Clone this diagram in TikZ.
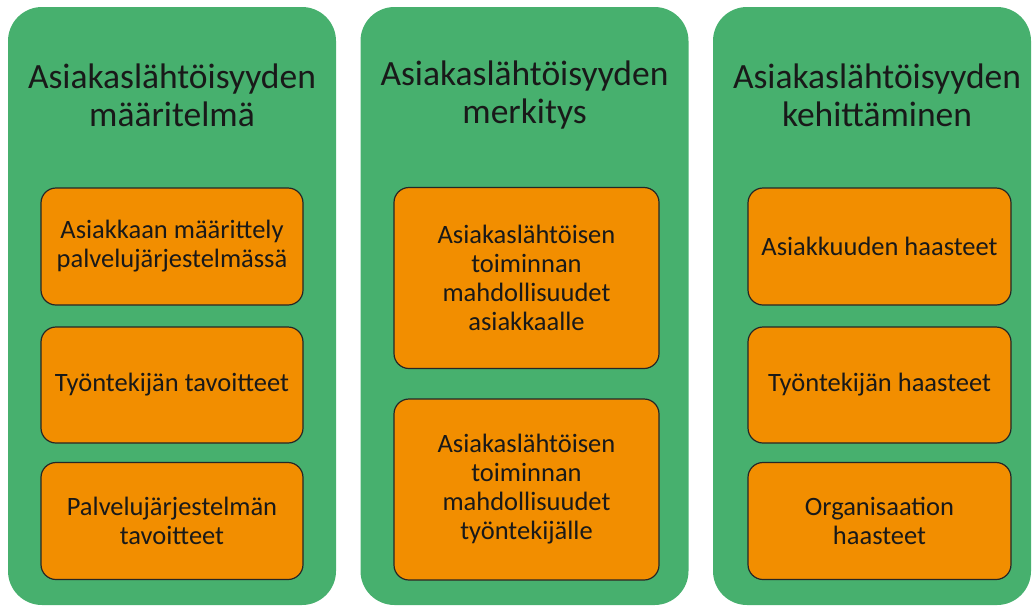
\documentclass[tikz,border=0pt]{standalone}
\usepackage{fontspec}
\setmainfont{Carlito}
\definecolor{panelgreen}{RGB}{71,176,110}
\definecolor{boxorange}{RGB}{242,142,0}

\begin{document}
\begin{tikzpicture}[
    x=1pt, y=-1pt,
    panel/.style={fill=panelgreen, rounded corners=34pt, minimum width=328pt, minimum height=598pt, inner sep=0pt},
    title/.style={align=center, font=\fontsize{35.5}{38}\selectfont, text=black!90},
    item/.style={draw=black!85, line width=1.2pt, fill=boxorange, rounded corners=15pt, align=center,
                 minimum width=262pt, font=\fontsize{26.5}{29}\selectfont, text=black!90, inner sep=0pt}
]
\useasboundingbox (0,0) rectangle (1033,606);

% Panels
\node[panel] (defpanel) at (172,306) {};
\node[panel] (sigpanel) at (524.5,306) {};
\node[panel, minimum width=318pt] (devpanel) at (872,306) {};

% Titles
\node[title] (deftitle) at (172,95.5) {Asiakaslähtöisyyden\\määritelmä};
\node[title] (sigtitle) at (524.5,95.5) {Asiakaslähtöisyyden\\merkitys};
\node[title] (devtitle) at (877,95.5) {Asiakaslähtöisyyden\\kehittäminen};

% Boxes
\node[item, minimum height=117pt] (client) at (172,246.5) {Asiakkaan määrittely\\palvelujärjestelmässä};
\node[item, minimum height=116pt] (workergoal) at (172,385) {Työntekijän tavoitteet};
\node[item, minimum height=117pt] (systemgoal) at (172,521) {Palvelujärjestelmän\\tavoitteet};

\node[item, minimum width=265pt, minimum height=181pt] (forclient) at (526.5,278) {Asiakaslähtöisen\\toiminnan\\mahdollisuudet\\asiakkaalle};
\node[item, minimum width=265pt, minimum height=181pt] (forworker) at (526.5,489.5) {Asiakaslähtöisen\\toiminnan\\mahdollisuudet\\työntekijälle};

\node[item, minimum width=263pt, minimum height=117pt] (clientchal) at (879.5,246.5) {Asiakkuuden haasteet};
\node[item, minimum width=263pt, minimum height=116pt] (workerchal) at (879.5,385) {Työntekijän haasteet};
\node[item, minimum width=263pt, minimum height=117pt] (orgchal) at (879.5,521) {Organisaation\\haasteet};

\end{tikzpicture}
\end{document}
